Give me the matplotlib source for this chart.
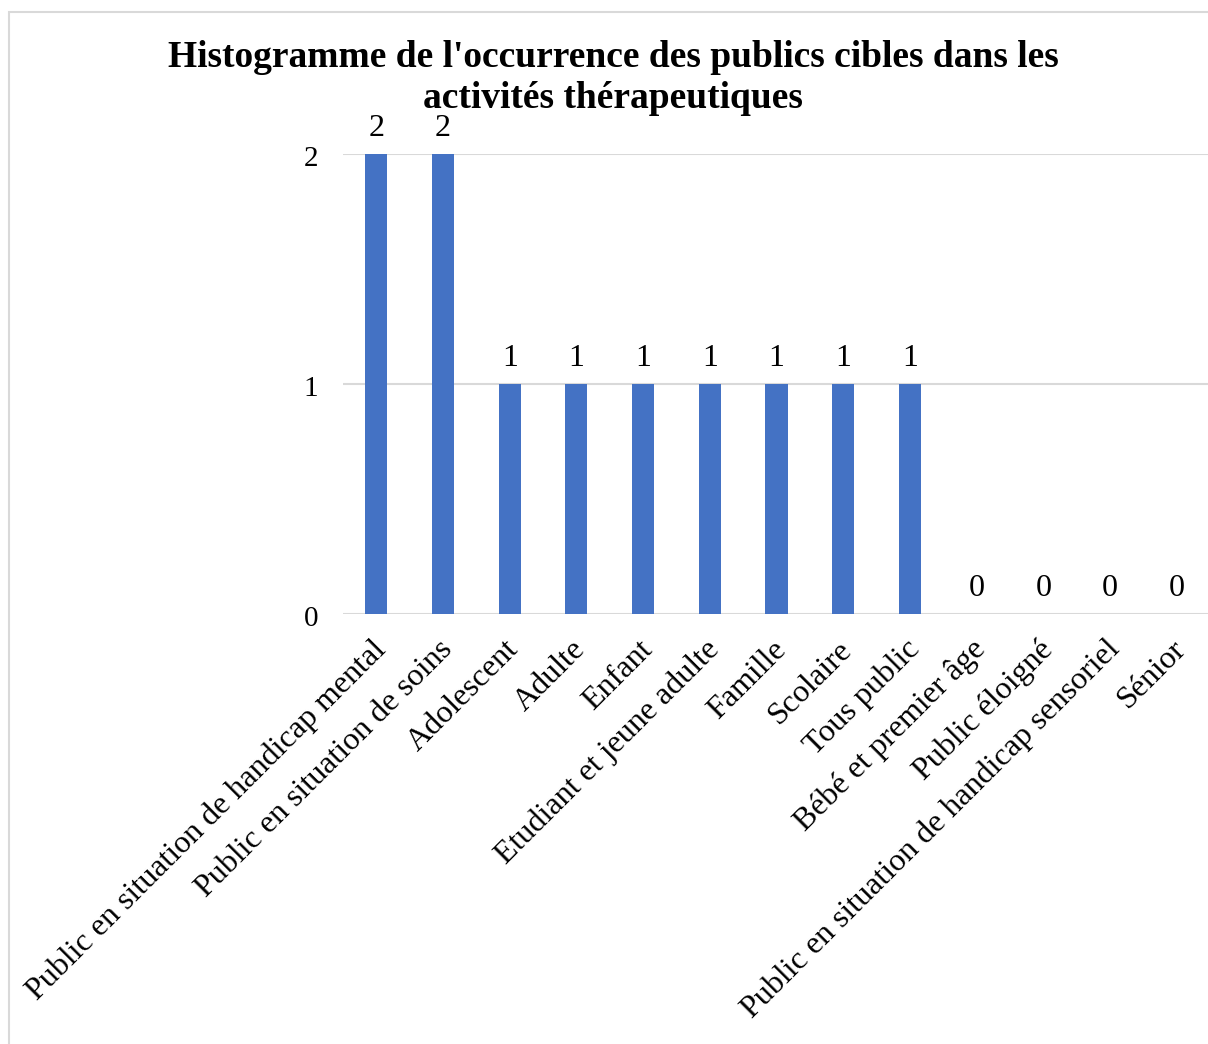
import matplotlib
matplotlib.use("Agg")
import matplotlib.pyplot as plt
from matplotlib.patches import Rectangle

categories = [
    "Public en situation de handicap mental",
    "Public en situation de soins",
    "Adolescent",
    "Adulte",
    "Enfant",
    "Etudiant et jeune adulte",
    "Famille",
    "Scolaire",
    "Tous public",
    "Bébé et premier âge",
    "Public éloigné",
    "Public en situation de handicap sensoriel",
    "Sénior",
]
values = [2, 2, 1, 1, 1, 1, 1, 1, 1, 0, 0, 0, 0]
yticks = [0, 1, 2]
title = "Histogramme de l'occurrence des publics cibles dans les\nactivités thérapeutiques"

W, H = 1208, 1044
plt.rcParams['font.family'] = ['Liberation Serif', 'DejaVu Serif']
fig = plt.figure(figsize=(W / 100, H / 100), dpi=100)

# outer frame
fig.patches.append(Rectangle((9 / W, -0.1), 1.2, 1 - 12 / H + 0.1, transform=fig.transFigure,
                             fill=False, edgecolor='#d9d9d9', linewidth=1.5))

left, right = 343 / W, 1210 / W
bottom, top = 1 - 614 / H, 1 - 154 / H
ax = fig.add_axes([left, bottom, right - left, top - bottom])
x = list(range(len(categories)))
bars = ax.bar(x, values, width=0.33, color='#4472C4', zorder=3)
ax.set_xlim(-0.5, len(categories) - 0.5)
ax.set_ylim(0, 2)
ax.set_yticks(yticks)
ax.set_yticklabels([str(v) for v in yticks], fontsize=21)
ax.tick_params(axis='y', length=0, pad=18)
ax.tick_params(axis='x', length=0, pad=8)
ax.set_xticks(x)
ax.set_xticklabels(categories, rotation=45, ha='right', va='center',
                   rotation_mode='anchor', fontsize=23)
for lab in ax.get_xticklabels():
    lab.set_transform(lab.get_transform() + matplotlib.transforms.ScaledTranslation(5/100, -20/100, fig.dpi_scale_trans))
for lab in ax.get_yticklabels():
    lab.set_transform(lab.get_transform() + matplotlib.transforms.ScaledTranslation(0, -2/100, fig.dpi_scale_trans))
ax.grid(axis='y', color='#d9d9d9', linewidth=1.5, zorder=0)
for s in ax.spines.values():
    s.set_visible(False)
for xi, v in zip(x, values):
    ax.annotate(str(v), (xi, v), xytext=(0, 8), textcoords='offset points',
                ha='center', va='bottom', fontsize=23, clip_on=False)

fig.text(613 / W, 1 - 78 / H, title, ha='center', va='center', fontsize=27,
         fontweight='bold', linespacing=1.22)

fig.savefig('out.png', dpi=100)
